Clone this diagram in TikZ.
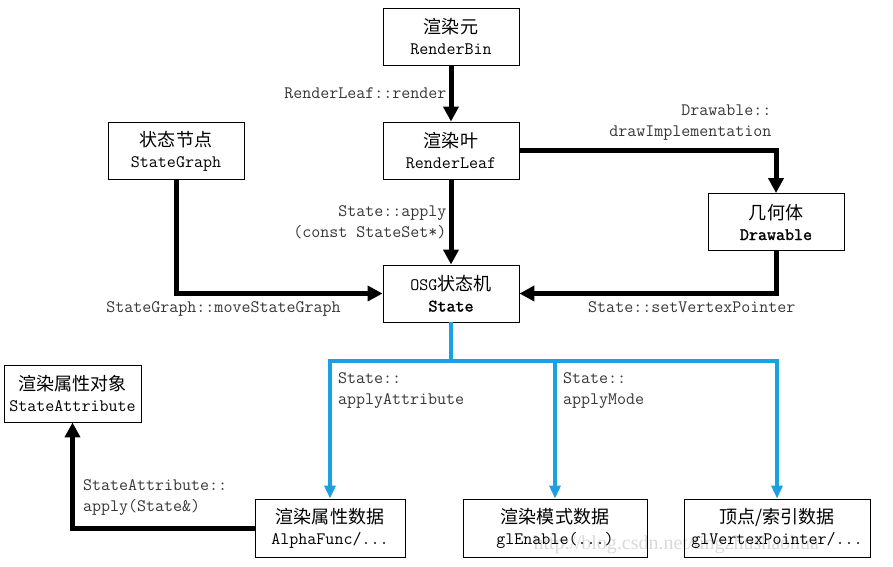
\documentclass[tikz,border=0pt]{standalone}
\usepackage{fontspec}
\setmainfont{Latin Modern Mono}
\newfontfamily\boldmono[FakeBold=1.6]{Latin Modern Mono}
\newfontfamily\cjk[Scale=1.03]{Noto Sans CJK SC}
\newfontfamily\wmfont{Liberation Serif}
\usetikzlibrary{arrows.meta}
\definecolor{lineblue}{RGB}{27,161,226}
\definecolor{labelgray}{RGB}{55,55,55}
\tikzset{
	box/.style={draw, line width=0.9pt, minimum width=136pt, minimum height=57pt, align=center, inner sep=2pt, font=\fontsize{17.5}{21}\selectfont},
	lbl/.style={text=labelgray, inner sep=2pt, font=\fontsize{17.5}{21}\selectfont},
	blk/.style={line width=5pt, -{Triangle[length=15pt,width=15pt]}},
	blu/.style={draw=lineblue, line width=4pt, -{Triangle[length=13pt,width=11pt]}},
}

\begin{document}
\begin{tikzpicture}[x=1pt, y=-1pt]

	\useasboundingbox (0,0) rectangle (893,566);

	\node (wm) [anchor=west, text=gray!30, font=\wmfont\fontsize{20}{20}\selectfont] at (530,545) {http://blog.csdn.net/tingzhushaohua};

	\node (bin) [box] at (451,36.5) {{\cjk 渲染元}\\RenderBin};
	\node (leaf) [box] at (451,150.5) {{\cjk 渲染叶}\\RenderLeaf};
	\node (sg) [box] at (176,151) {{\cjk 状态节点}\\StateGraph};
	\node (dr) [box] at (776,222) {{\cjk 几何体}\\{\boldmono Drawable}};
	\node (st) [box] at (451,293.5) {OSG{\cjk 状态机}\\{\boldmono State}};
	\node (sa) [box, minimum width=137pt] at (72.5,393.5) {{\cjk 渲染属性对象}\\StateAttribute};
	\node (af) [box, minimum width=150pt, minimum height=58pt] at (330,528) {{\cjk 渲染属性数据}\\AlphaFunc/...};
	\node (gle) [box, minimum width=184pt, minimum height=58pt] at (555,528) {{\cjk 渲染模式数据}\\glEnable(...)};
	\node (vp) [box, minimum width=186pt, minimum height=58pt] at (777,528) {{\cjk 顶点/索引数据}\\glVertexPointer/...};
	\coordinate (bus) at (451,361);

	\draw[blk] (bin) -- node[lbl, left] (l1) {RenderLeaf::render} (leaf);
	\draw[blk] (leaf) -- node[lbl, left, align=right] (l2) {State::apply\\(const StateSet*)} (st);
	\draw[blk] (leaf) -| node[lbl, above left, align=right, yshift=6pt] (l3) {Drawable::\\drawImplementation} (dr);
	\draw[blk] (sg) |- node[lbl, pos=0.615, below, yshift=-4pt] (l4) {StateGraph::moveStateGraph} (st);
	\draw[blk] (dr) |- node[lbl, pos=0.664, below, yshift=-4pt] (l5) {State::setVertexPointer} (st);
	\draw[blk] (af) -| node[lbl, above right, align=left, xshift=6pt, yshift=8pt] (l6) {StateAttribute::\\apply(State\&)} (sa);

	\draw[blu] (st) -- (bus) -| node[lbl, below right, align=left, xshift=4pt, yshift=-8pt] (l7) {State::\\applyAttribute} (af);
	\draw[blu] (bus) -| node[lbl, below right, align=left, xshift=4pt, yshift=-8pt] (l8) {State::\\applyMode} (gle);
	\draw[blu] (bus) -| (vp);

\end{tikzpicture}
\end{document}
